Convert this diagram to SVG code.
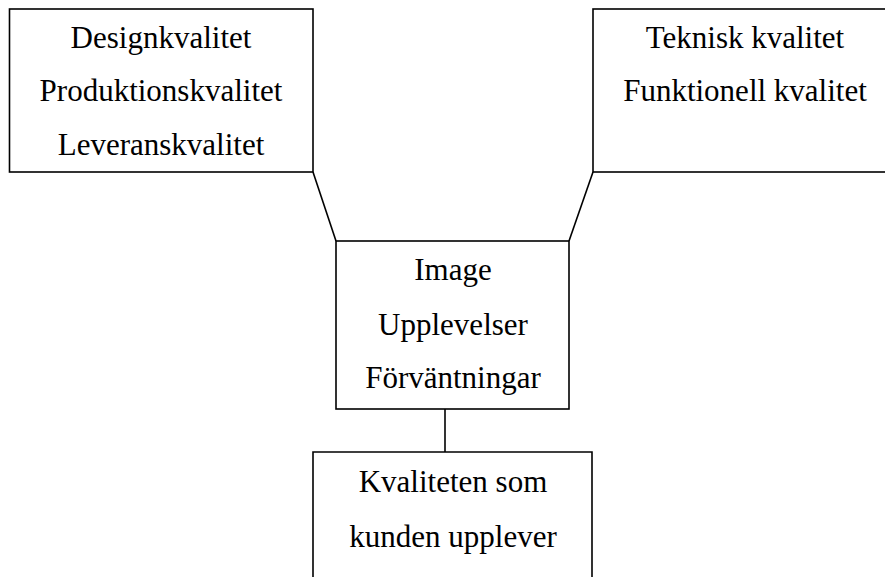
<svg xmlns="http://www.w3.org/2000/svg" width="885" height="577" viewBox="0 0 885 577">
<style>
.box{fill:#fff;stroke:#000;stroke-width:1.6}
.ln{fill:none;stroke:#000;stroke-width:1.6}
text{font-family:"Liberation Serif","Times New Roman",serif;font-size:31px;fill:#000;text-anchor:middle}
</style>
<rect width="885" height="577" fill="#fff"/>
<g id="connectors">
<line class="ln" x1="313" y1="172" x2="336" y2="241"/>
<line class="ln" x1="593" y1="172" x2="569" y2="241"/>
<line class="ln" x1="445" y1="409" x2="445" y2="452"/>
</g>
<g id="node-left">
<rect class="box" x="9.5" y="9" width="303.5" height="163"/>
<text x="161" y="48">Designkvalitet</text>
<text x="161" y="101">Produktionskvalitet</text>
<text x="161" y="155">Leveranskvalitet</text>
</g>
<g id="node-right">
<rect class="box" x="593" y="9" width="300" height="163"/>
<text x="745" y="48">Teknisk kvalitet</text>
<text x="745" y="101">Funktionell kvalitet</text>
</g>
<g id="node-middle">
<rect class="box" x="336" y="241" width="233" height="168"/>
<text x="453" y="280">Image</text>
<text x="453" y="335">Upplevelser</text>
<text x="453" y="388">Förväntningar</text>
</g>
<g id="node-bottom">
<path class="ln" d="M313,580 V452 H592 V580"/>
<text x="453" y="492">Kvaliteten som</text>
<text x="453" y="547">kunden upplever</text>
</g>
</svg>
